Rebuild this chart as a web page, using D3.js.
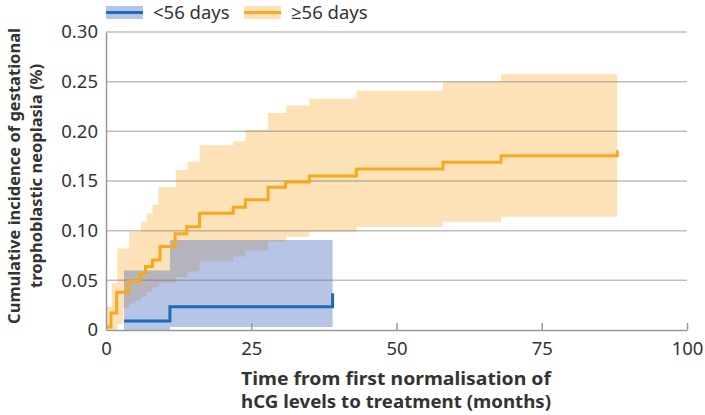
<!DOCTYPE html>
<html>
<head>
<meta charset="utf-8">
<script src="https://cdn.jsdelivr.net/npm/d3@7"></script>
<style>
  body { margin: 0; background: #fff; }
  text { font-family: "Noto Sans", "Open Sans", sans-serif; fill: #333; }
</style>
</head>
<body>
<script>
// ticks
const xTicks = [0, 25, 50, 75, 100];
const yTicks = [0, 0.05, 0.10, 0.15, 0.20, 0.25, 0.30];
const seriesNames = ["<56 days", "≥56 days"];

// >=56 days: step line [months, incidence]
const lateLine = [
  [0.1, 0.003], [0.86, 0.017], [1.84, 0.038], [3.8, 0.049], [5.9, 0.057],
  [6.8, 0.064], [8.0, 0.0705], [9.3, 0.084], [11.9, 0.097], [13.9, 0.104],
  [16.1, 0.1175], [21.9, 0.1235], [24.0, 0.131], [27.9, 0.1437], [30.9, 0.149],
  [35.0, 0.155], [43.1, 0.162], [58.0, 0.169], [68.0, 0.1755], [88.0, 0.181]
];
// >=56 days: confidence band [months, lower, upper]
const lateBand = [
  [0.1, 0, 0.0235], [1.0, 0, 0.047], [1.95, 0.006, 0.082], [3.0, 0.022, 0.082],
  [4.0, 0.027, 0.099], [5.0, 0.030, 0.099], [6.0, 0.0335, 0.109], [7.0, 0.0385, 0.1175],
  [8.0, 0.043, 0.126], [9.0, 0.047, 0.144], [12.0, 0.053, 0.161], [14.0, 0.059, 0.1695],
  [16.1, 0.069, 0.186], [21.9, 0.074, 0.19], [24.0, 0.080, 0.2015], [27.9, 0.089, 0.2185],
  [31.0, 0.094, 0.226], [35.0, 0.099, 0.233], [43.1, 0.104, 0.241], [58.0, 0.109, 0.250],
  [68.0, 0.114, 0.2575], [88.0, 0.114, 0.2575]
];
// <56 days
const earlyLine = [[3.1, 0.009], [11.0, 0.0235], [39.0, 0.037]];
const earlyBand = [[3.1, 0, 0.060], [11.0, 0.003, 0.0906], [39.0, 0.003, 0.0906]];

const W = 705, H = 415;
const svg = d3.select("body").append("svg")
  .attr("width", W).attr("height", H);

const x = d3.scaleLinear().domain([0, 100]).range([106, 687]);
const y = d3.scaleLinear().domain([0, 0.30]).range([330, 32]);

const band = d3.area()
  .curve(d3.curveStepAfter)
  .x(d => x(d[0])).y0(d => y(d[1])).y1(d => y(d[2]));
const line = d3.line()
  .curve(d3.curveStepAfter)
  .x(d => x(d[0])).y(d => y(d[1]));

// bands
svg.append("path").datum(lateBand).attr("d", band).attr("fill", "#fde2b7");
svg.append("path").datum(earlyBand).attr("d", band).attr("fill", "rgba(72,110,193,0.4)");

// grid lines
svg.append("g").selectAll("line")
  .data(yTicks.filter(d => d > 0))
  .enter().append("line")
  .attr("x1", x(0)).attr("x2", x(100))
  .attr("y1", d => y(d)).attr("y2", d => y(d))
  .attr("stroke", "rgba(110,110,110,0.45)").attr("stroke-width", 1.5);

// lines
svg.append("path").datum(lateLine).attr("d", line)
  .attr("fill", "none").attr("stroke", "#f8a91b").attr("stroke-width", 3);
svg.append("path").datum(earlyLine).attr("d", line)
  .attr("fill", "none").attr("stroke", "#1b6cb6").attr("stroke-width", 3);

const font = "'Noto Sans', 'Open Sans', sans-serif";

// axes
const xAxis = svg.append("g")
  .attr("transform", `translate(0,${y(0)})`)
  .call(d3.axisBottom(x).tickValues(xTicks).tickSize(-7).tickSizeOuter(0).tickPadding(12).tickFormat(d3.format("d")));
xAxis.select(".domain").attr("stroke", "#999").attr("stroke-width", 1.5);
xAxis.selectAll(".tick line").attr("stroke", "#999").attr("stroke-width", 1.5);
xAxis.selectAll(".tick").filter(d => d === 0).select("line").remove();
xAxis.selectAll("text").attr("font-size", 18.5).attr("fill", "#3a3a3a").attr("font-family", font);

const yAxis = svg.append("g")
  .attr("transform", `translate(${x(0)},0)`)
  .call(d3.axisLeft(y).tickValues(yTicks).tickSize(0).tickPadding(8)
    .tickFormat(d => d === 0 ? "0" : d3.format(".2f")(d)));
yAxis.select(".domain").attr("stroke", "#999").attr("stroke-width", 1.5);
yAxis.selectAll("text").attr("font-size", 18.5).attr("fill", "#3a3a3a").attr("font-family", font);

// axis titles
svg.append("text")
  .attr("x", 396).attr("y", 384.5)
  .attr("text-anchor", "middle").attr("font-size", 17).attr("font-weight", "bold")
  .attr("textLength", 310).attr("lengthAdjust", "spacingAndGlyphs")
  .text("Time from first normalisation of");
svg.append("text")
  .attr("x", 396).attr("y", 408)
  .attr("text-anchor", "middle").attr("font-size", 17).attr("font-weight", "bold")
  .attr("textLength", 310).attr("lengthAdjust", "spacingAndGlyphs")
  .text("hCG levels to treatment (months)");

const yt = svg.append("text")
  .attr("transform", "translate(0,176) rotate(-90)")
  .attr("text-anchor", "middle").attr("font-size", 16.5).attr("font-weight", "bold");
yt.append("tspan").attr("x", 0).attr("y", 20).text("Cumulative incidence of gestational");
yt.append("tspan").attr("x", 0).attr("y", 42).text("trophoblastic neoplasia (%)");

// legend
const legendX = [106, 244];
const swFill = ["#b6c5e6", "#fde2b7"];
const swLine = ["#1b6cb6", "#f8a91b"];
seriesNames.forEach((name, i) => {
  const g = svg.append("g").attr("transform", `translate(${legendX[i]},0)`);
  g.append("rect").attr("x", 0).attr("y", 6).attr("width", 37).attr("height", 13).attr("fill", swFill[i]);
  g.append("line").attr("x1", 0).attr("x2", 37).attr("y1", 12.5).attr("y2", 12.5)
    .attr("stroke", swLine[i]).attr("stroke-width", 3);
  g.append("text").attr("x", 47).attr("y", 19).attr("font-size", 18.5).attr("fill", "#3a3a3a").text(name);
});
</script>
</body>
</html>
